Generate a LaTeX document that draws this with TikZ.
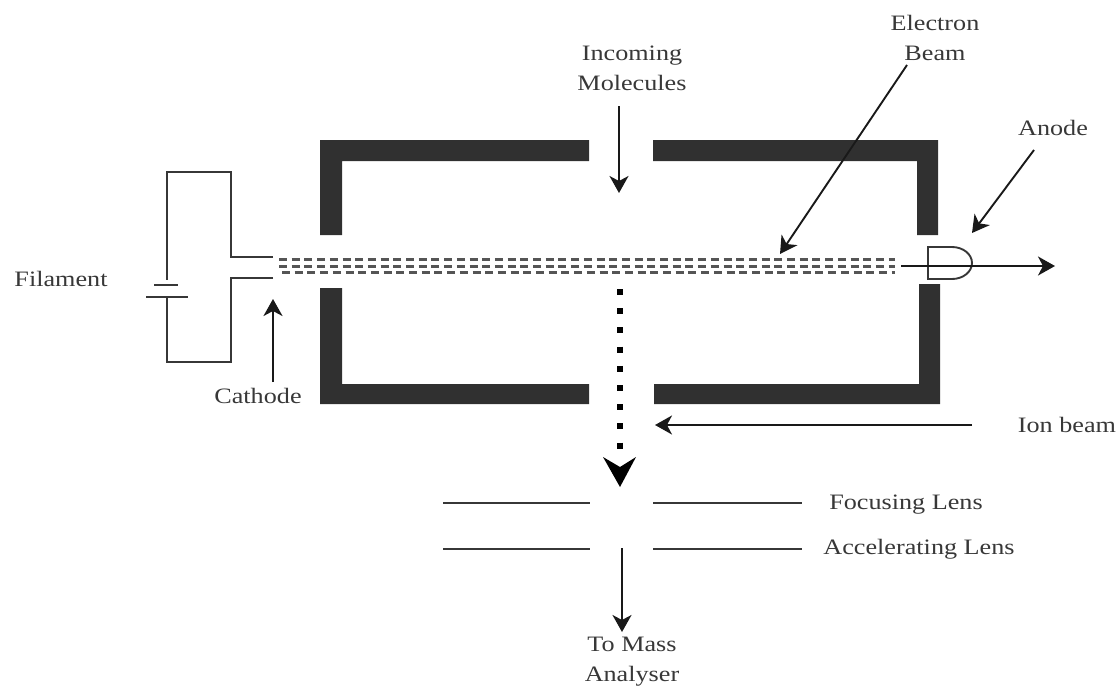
\documentclass[tikz,border=0pt]{standalone}
\usepackage{fontspec}
\setmainfont[FakeStretch=1.19]{Liberation Serif}
\usetikzlibrary{arrows.meta, positioning}
\definecolor{wallgray}{RGB}{48, 48, 48}
\definecolor{linegray}{RGB}{55, 55, 55}

\begin{document}
\begin{tikzpicture}[x=1pt, y=-1pt,
    wall/.style={fill=wallgray, draw=none},
    wire/.style={draw=linegray, line width=2.1pt},
    lens/.style={draw=linegray, line width=2.1pt},
    pointer/.style={draw=black!90, line width=1.9pt, -{Stealth[length=17pt, width=19pt, inset=5pt]}},
    beamline/.style={draw=linegray!85, line width=3pt, dash pattern=on 8pt off 4.7pt},
    label/.style={font=\fontsize{22}{30}\selectfont, text=black!78, align=center, inner sep=0pt}]
  \useasboundingbox (0,0) rectangle (1120,689);

  % chamber walls
  \fill[wall] (320,235) -- (320,140) -- (589,140) -- (589,161) -- (342,161) -- (342,235) -- cycle;
  \fill[wall] (653,140) -- (938,140) -- (938,235) -- (917,235) -- (917,161) -- (653,161) -- cycle;
  \fill[wall] (320,288) -- (320,404) -- (589,404) -- (589,384) -- (342,384) -- (342,288) -- cycle;
  \fill[wall] (654,384) -- (919,384) -- (919,284) -- (940,284) -- (940,404) -- (654,404) -- cycle;

  % filament circuit
  \draw[wire] (273,257) -- (231,257) -- (231,172) -- (167,172) -- (167,280);
  \draw[wire] (273,278) -- (231,278) -- (231,362) -- (167,362) -- (167,297);
  \draw[wire] (154,285) -- (178,285);
  \draw[wire] (146,297) -- (188,297);

  % electron beam
  \foreach \y/\x in {259/279, 266/279, 272/282}
    \draw[beamline] (\x,\y) -- (895,\y);

  % labels
  \node[label] (filament) at (61,279) {Filament};
  \node[label] (cathode) at (258,396) {Cathode};
  \node[label] (molecules) at (632,68) {Incoming\\Molecules};
  \node[label] (beam) at (935,38) {Electron\\Beam};
  \node[label] (anode) at (1053,128) {Anode};
  \node[label] (ion) at (1067,425) {Ion beam};
  \node[label] (focus) at (906,505) {Focusing Lens};
  \node[label] (accel) at (919,549) {Accelerating Lens};
  \node[label] (mass) at (632,662) {To Mass\\Analyser};

  \coordinate (cathodetip) at (273,299);
  \coordinate (intip) at (619,193);
  \coordinate (beamtail) at (907,65);
  \coordinate (beamtip) at (780,254);
  \coordinate (anodetail) at (1034,150);
  \coordinate (anodetip) at (972,233);
  \coordinate (collecttail) at (901,266);
  \coordinate (collecttip) at (1055,266);
  \coordinate (iontail) at (972,425);
  \coordinate (iontip) at (655,425);
  \coordinate (dottail) at (620,289);
  \coordinate (dottip) at (620,487);
  \coordinate (masstail) at (622,548);
  \coordinate (masstip) at (622,632);

  % anode
  \draw[wire, line width=1.9pt] (928,247) -- (952,247) arc (-90:90:20 and 16) -- (928,279) -- cycle;
  \draw[pointer] (collecttail) -- (collecttip);

  % arrows
  \draw[pointer] (273,382) -- (cathodetip);
  \draw[pointer] (619,106) -- (intip);
  \draw[pointer] (beamtail) -- (beamtip);
  \draw[pointer] (anodetail) -- (anodetip);
  \draw[pointer] (iontail) -- (iontip);
  \draw[pointer] (masstail) -- (masstip);

  % ion beam
  \draw[line width=6pt, dash pattern=on 6pt off 13.2pt] (dottail) -- (620,455);
  \fill (dottip) -- (603,457) -- (620,467) -- (636,457) -- cycle;

  % lenses
  \foreach \y in {503, 549} {
    \draw[lens] (443,\y) -- (590,\y);
    \draw[lens] (653,\y) -- (802,\y);
  }
\end{tikzpicture}
\end{document}
